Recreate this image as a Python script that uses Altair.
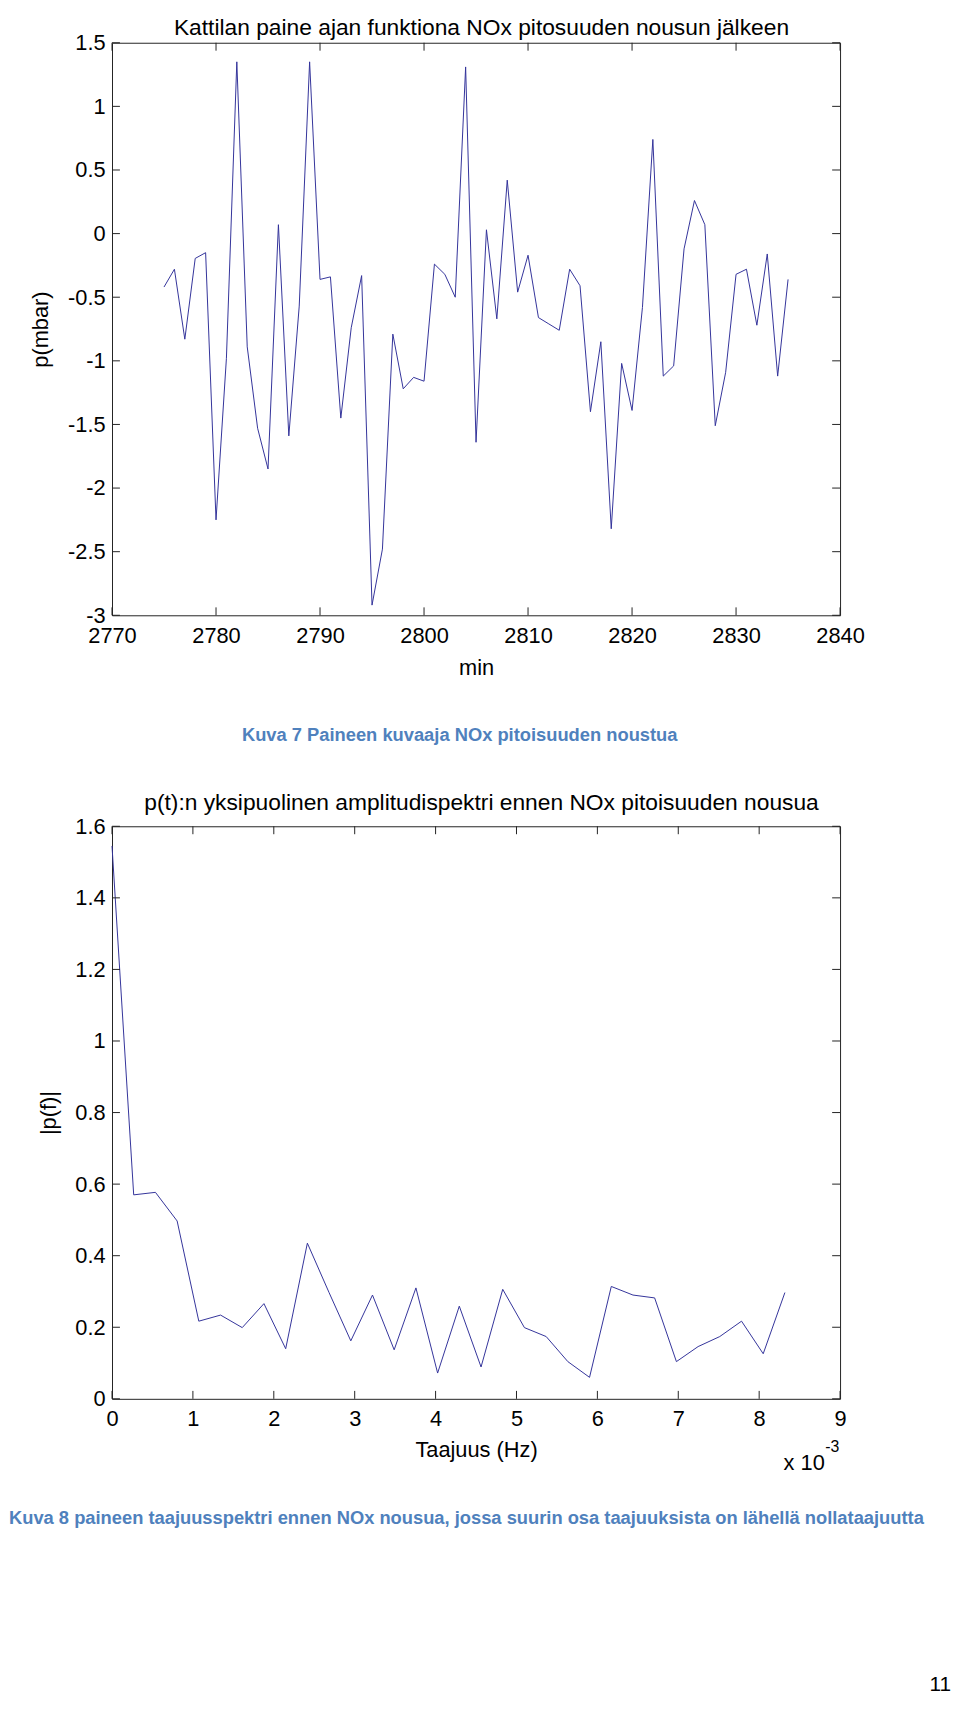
import altair as alt
import pandas as pd

# ---------------- data ----------------
minutes = [2775, 2776, 2777, 2778, 2779, 2780, 2781, 2782, 2783, 2784,
           2785, 2786, 2787, 2788, 2789, 2790, 2791, 2792, 2793, 2794,
           2795, 2796, 2797, 2798, 2799, 2800, 2801, 2802, 2803, 2804,
           2805, 2806, 2807, 2808, 2809, 2810, 2811, 2812, 2813, 2814,
           2815, 2816, 2817, 2818, 2819, 2820, 2821, 2822, 2823, 2824,
           2825, 2826, 2827, 2828, 2829, 2830, 2831, 2832, 2833, 2834,
           2835]
pressure = [-0.42, -0.28, -0.83, -0.195, -0.15, -2.25, -0.98, 1.35, -0.89, -1.53,
            -1.85, 0.07, -1.59, -0.57, 1.35, -0.36, -0.34, -1.45, -0.74, -0.33,
            -2.92, -2.48, -0.79, -1.22, -1.13, -1.16, -0.24, -0.32, -0.50, 1.31,
            -1.64, 0.03, -0.67, 0.42, -0.46, -0.17, -0.66, -0.71, -0.76, -0.28,
            -0.41, -1.40, -0.85, -2.32, -1.02, -1.39, -0.58, 0.74, -1.12, -1.04,
            -0.12, 0.26, 0.07, -1.51, -1.09, -0.32, -0.28, -0.72, -0.16, -1.12,
            -0.36]

freq_e3 = [0.0, 0.268, 0.537, 0.805, 1.073, 1.342, 1.610, 1.878, 2.147, 2.415,
           2.683, 2.952, 3.220, 3.488, 3.757, 4.025, 4.293, 4.562, 4.830, 5.098,
           5.367, 5.635, 5.903, 6.172, 6.440, 6.708, 6.977, 7.245, 7.513, 7.782,
           8.050, 8.318]
amplitude = [1.545, 0.570, 0.577, 0.497, 0.217, 0.234, 0.199, 0.266, 0.140, 0.435,
             0.297, 0.162, 0.290, 0.137, 0.310, 0.072, 0.259, 0.089, 0.306, 0.199,
             0.174, 0.104, 0.060, 0.314, 0.290, 0.282, 0.104, 0.146, 0.174, 0.217,
             0.126, 0.297]

x1_ticks = [2770, 2780, 2790, 2800, 2810, 2820, 2830, 2840]
y1_ticks = [-3, -2.5, -2, -1.5, -1, -0.5, 0, 0.5, 1, 1.5]
x2_ticks = [0, 1, 2, 3, 4, 5, 6, 7, 8, 9]
y2_ticks = [0, 0.2, 0.4, 0.6, 0.8, 1, 1.2, 1.4, 1.6]

title1 = "Kattilan paine ajan funktiona NOx pitosuuden nousun jälkeen"
title2 = "p(t):n yksipuolinen amplitudispektri ennen NOx pitoisuuden nousua"
caption1 = "Kuva 7 Paineen kuvaaja NOx pitoisuuden noustua"
caption2 = "Kuva 8 paineen taajuusspektri ennen NOx nousua, jossa suurin osa taajuuksista on lähellä nollataajuutta"
xlabel1, ylabel1 = "min", "p(mbar)"
xlabel2, ylabel2 = "Taajuus (Hz)", "|p(f)|"
exp_base, exp_power = "x 10", "-3"
page_no = "11"

# ---------------- style ----------------
W, H = 735, 578
FONT = "Liberation Sans"
FS = 22
TITLE_FS = 23
CAP_FS = 18.5
TICK = 8
LINE_COLOR = "#33339a"
AX_COLOR = "#222222"
CAP_COLOR = "#4f81bd"


def text_layer(s, x, y, size=FS, align="center", color="black", weight="normal"):
    return alt.Chart(pd.DataFrame({"s": [s]})).mark_text(
        align=align, baseline="alphabetic", font=FONT, fontSize=size,
        color=color, fontWeight=weight
    ).encode(x=alt.value(x), y=alt.value(y), text="s:N")


def panel(xs, ys, xdom, ydom, xticks, yticks, xtitle, ytitle, ytitle_x, xtitle_y, extra):
    df = pd.DataFrame({"x": xs, "y": ys})
    xscale = alt.Scale(domain=xdom, nice=False, zero=False)
    yscale = alt.Scale(domain=ydom, nice=False, zero=False)
    common = dict(ticks=False, tickSize=0, domain=False, grid=False,
                  labelFont=FONT, labelFontSize=FS, labelColor="black",
                  labelFlush=False, labelOverlap=False,
                  labelExpr="toString(datum.value)",
                  titleFont=FONT, titleFontSize=FS, titleFontWeight="normal",
                  titleColor="black")
    xax = alt.Axis(values=xticks, title=xtitle, labelPadding=10,
                   titleBaseline="alphabetic", titleY=xtitle_y, **common)
    yax = alt.Axis(values=yticks, title=ytitle, labelPadding=7,
                   titleAngle=-90, titleBaseline="alphabetic",
                   titleX=ytitle_x, titleY=H / 2, titleAlign="center", **common)
    line = alt.Chart(df).mark_line(color=LINE_COLOR, strokeWidth=1).encode(
        x=alt.X("x:Q", scale=xscale, axis=xax),
        y=alt.Y("y:Q", scale=yscale, axis=yax),
    )
    # MATLAB-style inward tick marks on all four sides
    xdf = pd.DataFrame({"t": xticks})
    ydf = pd.DataFrame({"t": yticks})
    rule = dict(color=AX_COLOR, strokeWidth=1)
    bx = alt.Chart(xdf).mark_rule(**rule).encode(
        x=alt.X("t:Q", scale=xscale, axis=xax), y=alt.value(H - TICK), y2=alt.value(H))
    tx = alt.Chart(xdf).mark_rule(**rule).encode(
        x=alt.X("t:Q", scale=xscale, axis=xax), y=alt.value(0), y2=alt.value(TICK))
    ly = alt.Chart(ydf).mark_rule(**rule).encode(
        y=alt.Y("t:Q", scale=yscale, axis=yax), x=alt.value(0), x2=alt.value(TICK))
    ry = alt.Chart(ydf).mark_rule(**rule).encode(
        y=alt.Y("t:Q", scale=yscale, axis=yax), x=alt.value(W - TICK), x2=alt.value(W))
    return alt.layer(line, bx, tx, ly, ry, *extra).properties(width=W, height=H)


# invisible (white) anchor fixing the top-left corner of the page layout
anchor = alt.Chart(pd.DataFrame({"a": [0]})).mark_rule(color="white", strokeWidth=1).encode(
    x=alt.value(-103.5), x2=alt.value(-99.5), y=alt.value(-25.5))

top = panel(minutes, pressure, [2770, 2840], [-3, 1.5], x1_ticks, y1_ticks,
            xlabel1, ylabel1, -65, 60,
            [text_layer(title1, 373, -8, size=TITLE_FS),
             text_layer(caption1, 351, 705, size=CAP_FS, color=CAP_COLOR, weight="bold"),
             anchor])

bottom = panel(freq_e3, amplitude, [0, 9], [0, 1.6], x2_ticks, y2_ticks,
               xlabel2, ylabel2, -57, 58,
               [text_layer(title2, 373, -16, size=TITLE_FS),
                text_layer(exp_base, 678, 650, align="left"),
                text_layer(exp_power, 720, 632, size=16, align="left"),
                text_layer(caption2, -104, 704, size=CAP_FS, align="left", color=CAP_COLOR, weight="bold"),
                text_layer(page_no, 847, 873, size=21, align="right")])

chart = alt.vconcat(top, bottom, spacing=213, bounds="flush").properties(
    padding=0, background="white"
).configure_view(stroke=AX_COLOR, strokeWidth=1)

chart.save("out.html", embed_options={"renderer": "svg", "actions": False})
